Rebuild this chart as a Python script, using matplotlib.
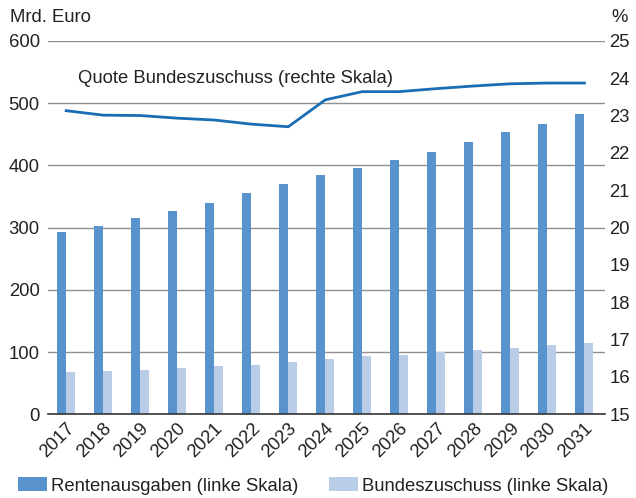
import matplotlib
matplotlib.use("Agg")
import matplotlib.pyplot as plt
import numpy as np

plt.rcParams['font.family'] = ['Liberation Sans', 'DejaVu Sans']

years = ['2017', '2018', '2019', '2020', '2021', '2022', '2023', '2024',
         '2025', '2026', '2027', '2028', '2029', '2030', '2031']
renten = [293, 303, 315, 327, 340, 355, 370, 385, 396, 408, 422, 437, 453, 467, 483]
zuschuss = [67.5, 69, 72, 74.5, 77, 80, 83.5, 89.5, 93.5, 96, 100.5, 103.5, 107, 111, 114.5]
quote = [23.13, 23.01, 23.0, 22.93, 22.88, 22.77, 22.70, 23.42, 23.64, 23.64,
         23.72, 23.79, 23.85, 23.87, 23.87]

dark = '#5893cd'
light = '#b9cde9'
linecol = '#1b6db5'
txt = '#222222'
fs = 13.3

fig = plt.figure(figsize=(6.36, 4.98), dpi=100)
ax = fig.add_axes([0.0755, 0.168, 0.876, 0.750])
x = np.arange(len(years))
w = 0.245

for y in range(100, 700, 100):
    ax.axhline(y, color='#8f8f8f', lw=1.0, zorder=0)
ax.bar(x - w / 2, renten, w, color=dark, label='Rentenausgaben (linke Skala)', zorder=2)
ax.bar(x + w / 2, zuschuss, w, color=light, label='Bundeszuschuss (linke Skala)', zorder=2)

ax.set_ylim(0, 600)
ax.set_xlim(-0.49, 14.56)
ax.set_yticks(range(0, 700, 100))
ax.set_xticks(x)
ax.set_xticklabels(years, rotation=45, ha='right', va='top', rotation_mode='anchor')
for s in ['top', 'right', 'left']:
    ax.spines[s].set_visible(False)
ax.spines['bottom'].set_color('#333333')
ax.spines['bottom'].set_linewidth(1.2)
ax.tick_params(axis='y', length=0, pad=6, labelsize=fs, colors=txt)
ax.tick_params(axis='x', length=0, pad=4, labelsize=fs, colors=txt)

ax2 = ax.twinx()
ax2.plot(x, quote, color=linecol, lw=2, zorder=5)
ax2.set_ylim(15, 25)
ax2.set_yticks(range(15, 26))
for s in ['top', 'right', 'left', 'bottom']:
    ax2.spines[s].set_visible(False)
ax2.tick_params(axis='y', length=0, pad=3, labelsize=fs, colors=txt)

ax.text(0.054, 0.9, 'Quote Bundeszuschuss (rechte Skala)', transform=ax.transAxes,
        fontsize=fs, color=txt, va='center', ha='left')
fig.text(10 / 636, 1 - 18 / 498, 'Mrd. Euro', fontsize=fs, color=txt, va='center', ha='left')
fig.text(628 / 636, 1 - 18 / 498, '%', fontsize=fs, color=txt, va='center', ha='right')

fig.legend(loc='center left', bbox_to_anchor=(18 / 636, 1 - 486 / 498), ncol=2, frameon=False,
           fontsize=fs, handlelength=1.55, handleheight=0.75, columnspacing=1.65,
           handletextpad=0.25, borderpad=0, borderaxespad=0, labelcolor=txt)

fig.savefig('out.png', dpi=100)
